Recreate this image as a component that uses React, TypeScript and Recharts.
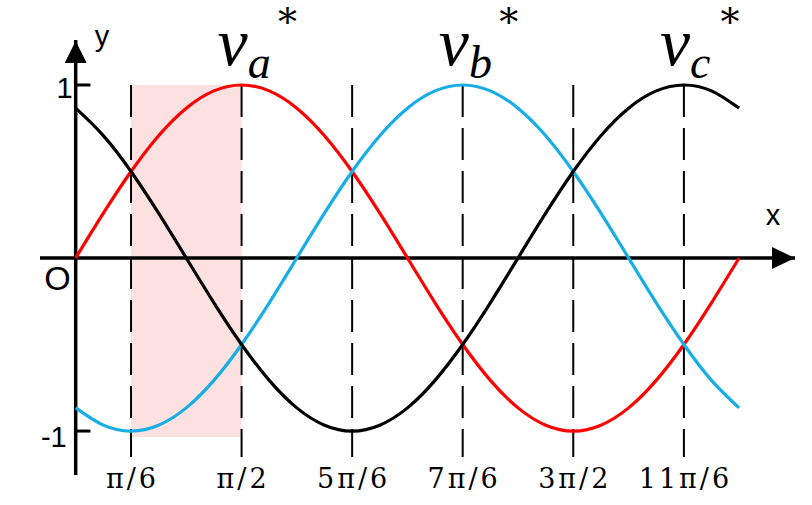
import React from "react";
import {
  ComposedChart,
  Line,
  XAxis,
  YAxis,
  ReferenceLine,
  ReferenceArea,
  ReferenceDot,
} from "recharts";

// sample angles (rad), step pi/12 from 0 to 2pi
const theta = [
  0, 0.262, 0.524, 0.785, 1.047, 1.309, 1.571, 1.833, 2.094, 2.356, 2.618, 2.88,
  3.142, 3.403, 3.665, 3.927, 4.189, 4.451, 4.712, 4.974, 5.236, 5.498, 5.76,
  6.021, 6.283,
];
const vaValues = [
  0, 0.259, 0.5, 0.707, 0.866, 0.966, 1, 0.966, 0.866, 0.707, 0.5, 0.259, 0,
  -0.259, -0.5, -0.707, -0.866, -0.966, -1, -0.966, -0.866, -0.707, -0.5,
  -0.259, 0,
];
const vbValues = [
  -0.866, -0.966, -1, -0.966, -0.866, -0.707, -0.5, -0.259, 0, 0.259, 0.5,
  0.707, 0.866, 0.966, 1, 0.966, 0.866, 0.707, 0.5, 0.259, 0, -0.259, -0.5,
  -0.707, -0.866,
];
const vcValues = [
  0.866, 0.707, 0.5, 0.259, 0, -0.259, -0.5, -0.707, -0.866, -0.966, -1,
  -0.966, -0.866, -0.707, -0.5, -0.259, 0, 0.259, 0.5, 0.707, 0.866, 0.966, 1,
  0.966, 0.866,
];

const tickValues = [0.524, 1.571, 2.618, 3.665, 4.712, 5.76];
const tickLabels = ["π/6", "π/2", "5π/6", "7π/6", "3π/2", "11π/6"];

const phaseNames = ["a", "b", "c"];
const phasePeakX = [1.571, 3.665, 5.76];
const phaseColors = ["#ff0000", "#17aee6", "#000000"];

const shadeX = [0.524, 1.571];
const shadeY = [-1.035, 1];
const dashTop = 1;
const dashBottom = -1.15;

const X_MIN = -0.338;
const X_MAX = 6.812;
const Y_MIN = -1.254;
const Y_MAX = 1.26;

const data = theta.map((t, i) => ({
  x: t,
  va: vaValues[i],
  vb: vbValues[i],
  vc: vcValues[i],
}));

const TickLabel = (props: any) => {
  const { x, y, payload } = props;
  let idx = 0;
  let best = Infinity;
  tickValues.forEach((v, i) => {
    const d = Math.abs(v - payload.value);
    if (d < best) {
      best = d;
      idx = i;
    }
  });
  return (
    <text
      x={x + 1.5}
      y={y + 5}
      textAnchor="middle"
      fontFamily="DejaVu Serif"
      fontSize={27}
      letterSpacing={3}
      fill="#000"
    >
      {tickLabels[idx]}
    </text>
  );
};

const sans = "Liberation Sans, Arial, sans-serif";
const serif = "Liberation Serif, Times New Roman, serif";

export default function App() {
  return (
    <div style={{ position: "absolute", left: 0, top: 0, background: "#fff" }}>
      <ComposedChart
        width={812}
        height={505}
        data={data}
        margin={{ top: 40, right: 17, left: 40, bottom: 0 }}
      >
        <XAxis
          type="number"
          dataKey="x"
          domain={[X_MIN, X_MAX]}
          ticks={tickValues}
          allowDataOverflow
          axisLine={false}
          tickLine={false}
          height={30}
          interval={0}
          tick={<TickLabel />}
        />
        <YAxis hide type="number" domain={[Y_MIN, Y_MAX]} allowDataOverflow />

        <ReferenceArea
          x1={shadeX[0]}
          x2={shadeX[1]}
          y1={shadeY[0]}
          y2={shadeY[1]}
          fill="#fde1e1"
          fillOpacity={1}
          stroke="none"
        />

        {tickValues.map((t) => (
          <ReferenceLine
            key={"d" + t}
            segment={[
              { x: t, y: dashTop },
              { x: t, y: dashBottom },
            ]}
            stroke="#000"
            strokeWidth={2}
            strokeDasharray="32 11"
          />
        ))}

        {/* axes */}
        <ReferenceLine x={0} stroke="#000" strokeWidth={3.5} />
        <ReferenceLine y={0} stroke="#000" strokeWidth={3.5} />
        <ReferenceLine
          segment={[
            { x: 0, y: 1 },
            { x: 0.14, y: 1 },
          ]}
          stroke="#000"
          strokeWidth={3}
        />
        <ReferenceLine
          segment={[
            { x: 0, y: -1 },
            { x: 0.14, y: -1 },
          ]}
          stroke="#000"
          strokeWidth={3}
        />

        <Line
          type="natural"
          dataKey="va"
          stroke={phaseColors[0]}
          strokeWidth={3.2}
          dot={false}
          isAnimationActive={false}
        />
        <Line
          type="natural"
          dataKey="vb"
          stroke={phaseColors[1]}
          strokeWidth={3.2}
          dot={false}
          isAnimationActive={false}
        />
        <Line
          type="natural"
          dataKey="vc"
          stroke={phaseColors[2]}
          strokeWidth={3.2}
          dot={false}
          isAnimationActive={false}
        />

        {/* arrowheads */}
        <ReferenceDot
          x={0}
          y={Y_MAX}
          r={0}
          shape={(p: any) => (
            <polygon
              points={`${p.cx},${p.cy + 1} ${p.cx - 11},${p.cy + 23} ${p.cx + 11},${p.cy + 23}`}
              fill="#000"
            />
          )}
        />
        <ReferenceDot
          x={X_MAX}
          y={0}
          r={0}
          shape={(p: any) => (
            <polygon
              points={`${p.cx},${p.cy} ${p.cx - 23},${p.cy - 11} ${p.cx - 23},${p.cy + 11}`}
              fill="#000"
            />
          )}
        />

        {/* axis texts */}
        <ReferenceDot
          x={0}
          y={1}
          r={0}
          shape={(p: any) => (
            <text x={p.cx - 3} y={p.cy + 13} textAnchor="end" fontFamily={sans} fontSize={29} fill="#000">
              1
            </text>
          )}
        />
        <ReferenceDot
          x={0}
          y={-1}
          r={0}
          shape={(p: any) => (
            <text x={p.cx - 9} y={p.cy + 16} textAnchor="end" fontFamily={sans} fontSize={29} fill="#000">
              -1
            </text>
          )}
        />
        <ReferenceDot
          x={0}
          y={0}
          r={0}
          shape={(p: any) => (
            <text x={p.cx - 5} y={p.cy + 32} textAnchor="end" fontFamily={sans} fontSize={34} fill="#000">
              O
            </text>
          )}
        />
        <ReferenceDot
          x={X_MAX}
          y={0}
          r={0}
          shape={(p: any) => (
            <text x={p.cx - 22} y={p.cy - 33} textAnchor="middle" fontFamily={sans} fontSize={29} fill="#000">
              x
            </text>
          )}
        />
        <ReferenceDot
          x={0}
          y={Y_MAX}
          r={0}
          shape={(p: any) => (
            <text x={p.cx + 19} y={p.cy + 6} textAnchor="start" fontFamily={sans} fontSize={29} fill="#000">
              y
            </text>
          )}
        />

        {/* phase labels */}
        {phasePeakX.map((px, i) => (
          <ReferenceDot
            key={"lab" + i}
            x={px}
            y={1}
            r={0}
            shape={(p: any) => (
              <g>
                <text
                  x={p.cx - 24}
                  y={p.cy - 20}
                  fontFamily={serif}
                  fontStyle="italic"
                  fill="#000"
                >
                  <tspan fontSize={68}>v</tspan>
                  <tspan fontSize={46} dy={13}>
                    {phaseNames[i]}
                  </tspan>
                </text>
                <text
                  x={p.cx + 46}
                  y={p.cy - 50}
                  textAnchor="middle"
                  fontFamily="DejaVu Serif"
                  fontSize={38}
                  fill="#000"
                >
                  *
                </text>
              </g>
            )}
          />
        ))}
      </ComposedChart>
    </div>
  );
}
